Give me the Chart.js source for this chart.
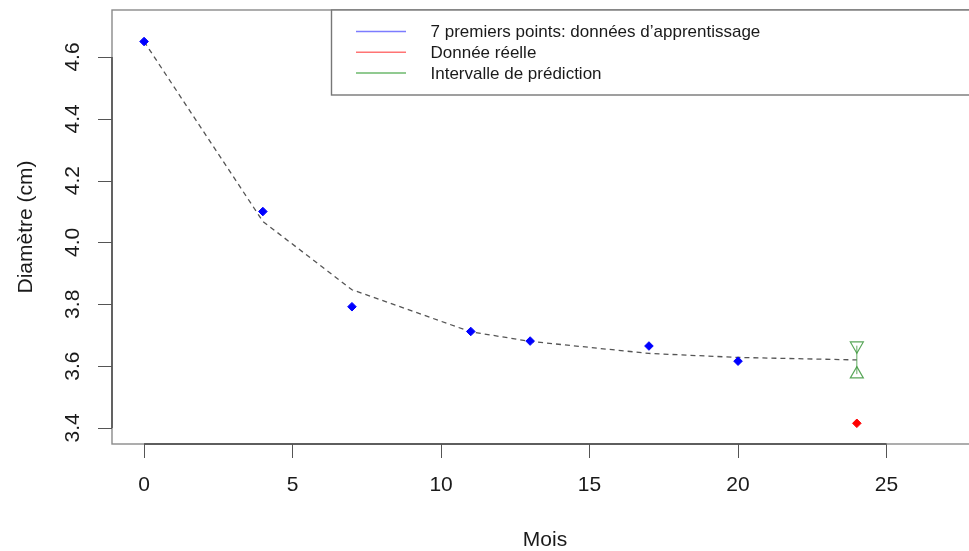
<!DOCTYPE html>
<html>
<head>
<meta charset="utf-8">
<script src="https://cdn.jsdelivr.net/npm/chart.js@4/dist/chart.umd.min.js"></script>
<style>
html,body{margin:0;padding:0;background:#fff;overflow:hidden;width:969px;height:551px;}
canvas{display:block;}
</style>
</head>
<body>
<canvas id="c" width="990" height="551"></canvas>
<script>
// ---- data ----
const months = [0, 4, 7, 11, 13, 17, 20];
const diameters = [4.65, 4.10, 3.792, 3.712, 3.681, 3.665, 3.616];
const fitMonths = [0, 4, 7, 11, 13, 17, 20, 24];
const fitDiameters = [4.65, 4.068, 3.847, 3.711, 3.68, 3.641, 3.628, 3.620];
const actualMonths = [24];
const actualDiameters = [3.415];
const intervalMonths = [24];
const intervalLow = [3.574];
const intervalHigh = [3.666];
const xTicks = [0, 5, 10, 15, 20, 25];
const yTicks = [3.4, 3.6, 3.8, 4.0, 4.2, 4.4, 4.6];
const legendLabels = ["7 premiers points: données d\u2019apprentissage", "Donnée réelle", "Intervalle de prédiction"];
const legendColors = ["rgba(80,80,255,0.75)", "rgba(255,70,70,0.75)", "rgba(60,160,60,0.75)"];
const xTitle = "Mois";
const yTitle = "Diamètre (cm)";

const FONT = "'Liberation Sans', Arial, Helvetica, sans-serif";

const boxPlugin = {
  id: 'boxPlugin',
  afterDraw(chart) {
    const {ctx, chartArea: a, scales: {x, y}} = chart;
    ctx.save();
    // plot box
    ctx.strokeStyle = '#8a8a8a';
    ctx.lineWidth = 1.4;
    ctx.strokeRect(a.left, a.top, a.right - a.left, a.bottom - a.top);
    // axis lines (between first and last tick)
    ctx.strokeStyle = '#444';
    ctx.beginPath();
    ctx.moveTo(x.getPixelForValue(xTicks[0]), a.bottom);
    ctx.lineTo(x.getPixelForValue(xTicks[xTicks.length - 1]), a.bottom);
    ctx.moveTo(a.left, y.getPixelForValue(yTicks[0]));
    ctx.lineTo(a.left, y.getPixelForValue(yTicks[yTicks.length - 1]));
    ctx.stroke();
    // y tick marks
    ctx.strokeStyle = '#555';
    ctx.lineWidth = 1;
    ctx.beginPath();
    yTicks.forEach(v => {
      const py = Math.round(y.getPixelForValue(v)) + 0.5;
      ctx.moveTo(a.left - 14, py);
      ctx.lineTo(a.left, py);
    });
    ctx.stroke();
    // legend
    const lx = 331.5, ly = a.top, lh = 85;
    ctx.fillStyle = '#fff';
    ctx.fillRect(lx, ly, a.right - lx, lh);
    ctx.strokeStyle = '#777';
    ctx.lineWidth = 1.4;
    ctx.strokeRect(lx, ly, a.right - lx, lh);
    ctx.font = "17px " + FONT;
    ctx.textBaseline = 'middle';
    ctx.textAlign = 'left';
    legendLabels.forEach((t, i) => {
      const yy = ly + 21.5 + i * 20.7;
      ctx.strokeStyle = legendColors[i];
      ctx.lineWidth = 1.5;
      ctx.beginPath();
      ctx.moveTo(356, yy);
      ctx.lineTo(406, yy);
      ctx.stroke();
      ctx.fillStyle = '#1a1a1a';
      ctx.fillText(t, 430.5, yy + 1);
    });
    ctx.restore();
  }
};

new Chart(document.getElementById('c'), {
  type: 'scatter',
  data: {
    datasets: [
      {
        label: 'fit',
        type: 'line',
        data: fitMonths.map((m, i) => ({x: m, y: fitDiameters[i]})),
        borderColor: '#555',
        borderWidth: 1.3,
        borderDash: [5, 4],
        pointRadius: 0,
        fill: false,
        tension: 0,
        order: 5
      },
      {
        label: 'interval',
        type: 'line',
        data: intervalMonths.flatMap((m, i) => [{x: m, y: intervalLow[i]}, {x: m, y: intervalHigh[i]}]),
        borderColor: 'rgba(60,150,60,0.8)',
        borderWidth: 1,
        pointStyle: 'triangle',
        pointRotation: [0, 180],
        pointRadius: 7.5,
        pointBorderWidth: 1.2,
        pointBorderColor: 'rgba(60,150,60,0.85)',
        pointBackgroundColor: 'rgba(0,0,0,0)',
        fill: false,
        order: 4
      },
      {
        label: 'train',
        data: months.map((m, i) => ({x: m, y: diameters[i]})),
        pointStyle: 'rectRot',
        pointRadius: 4.3,
        pointBackgroundColor: '#0000ff',
        pointBorderColor: '#0000ff',
        pointBorderWidth: 1,
        order: 1
      },
      {
        label: 'real',
        data: actualMonths.map((m, i) => ({x: m, y: actualDiameters[i]})),
        pointStyle: 'rectRot',
        pointRadius: 4.3,
        pointBackgroundColor: '#ff0000',
        pointBorderColor: '#ff0000',
        pointBorderWidth: 1,
        order: 2
      }
    ]
  },
  options: {
    responsive: false,
    devicePixelRatio: 1,
    animation: false,
    layout: {padding: {top: 10, left: 0, right: 12, bottom: 0}},
    plugins: {legend: {display: false}, tooltip: {enabled: false}},
    scales: {
      x: {
        type: 'linear',
        min: -1.08,
        max: 28.08,
        afterBuildTicks: s => { s.ticks = xTicks.map(v => ({value: v})); },
        afterFit: s => { s.height = 107; s.paddingLeft = 0; s.paddingRight = 0; },
        grid: {display: true, drawOnChartArea: false, drawTicks: true, tickLength: 14, color: '#555', lineWidth: 1},
        border: {display: false},
        ticks: {font: {family: FONT, size: 21}, color: '#1a1a1a', padding: 15, maxRotation: 0},
        title: {display: true, text: xTitle, font: {family: FONT, size: 21, lineHeight: 1}, color: '#1a1a1a', padding: {top: 0, bottom: 0}}
      },
      y: {
        type: 'linear',
        min: 3.348,
        max: 4.752,
        afterBuildTicks: s => { s.ticks = yTicks.map(v => ({value: v})); },
        afterFit: s => { s.width = 112; s.paddingTop = 0; s.paddingBottom = 0; },
        grid: {display: false, drawTicks: true, tickLength: 14},
        border: {display: false},
        ticks: {font: {family: FONT, size: 21}, color: '#1a1a1a', padding: 10, minRotation: 90, maxRotation: 90, crossAlign: 'center',
          callback: v => v.toFixed(1)},
        title: {display: true, text: yTitle, font: {family: FONT, size: 21, lineHeight: 1}, color: '#1a1a1a', padding: {top: 15.5, bottom: 0}}
      }
    }
  },
  plugins: [boxPlugin]
});
</script>
</body>
</html>
